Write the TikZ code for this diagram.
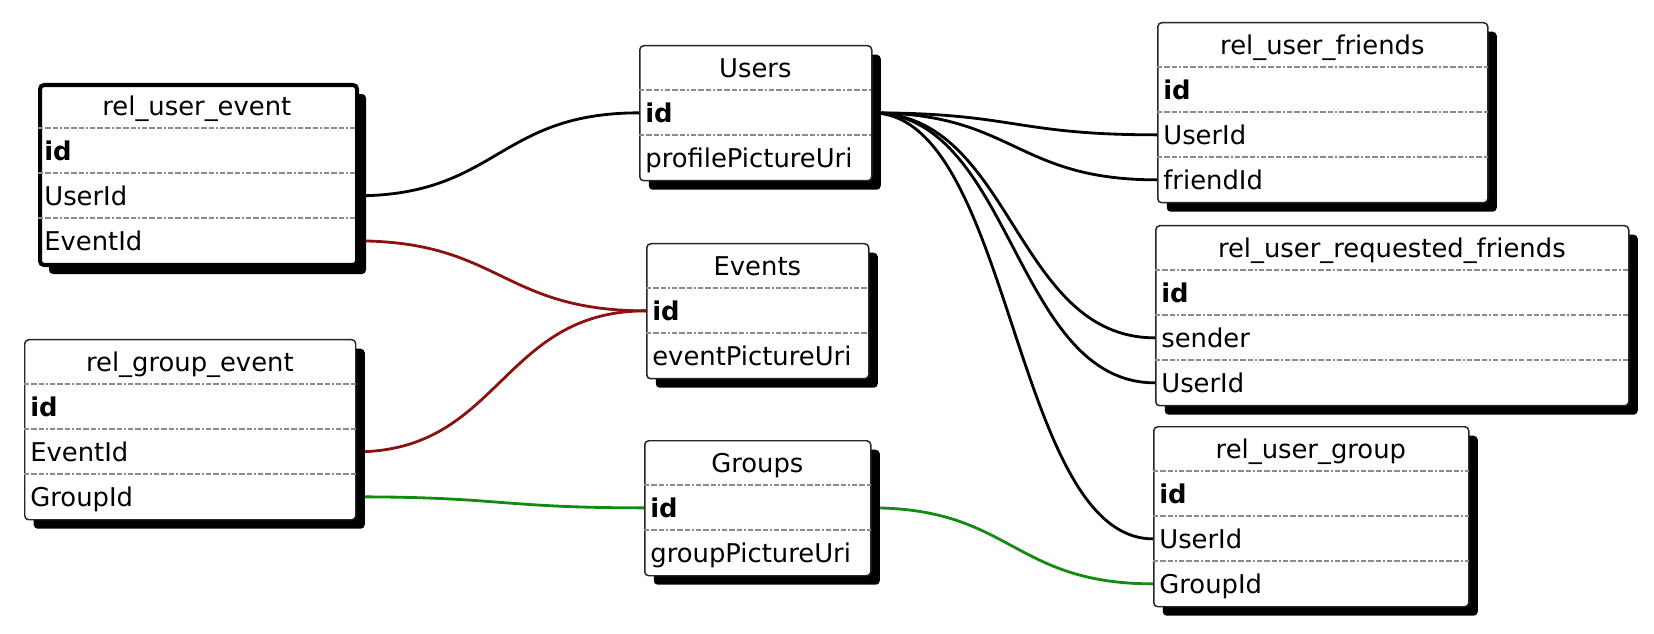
\documentclass[tikz,border=0pt]{standalone}
\usepackage{fontspec}
\setmainfont{DejaVu Sans}
\usetikzlibrary{shadows,backgrounds,calc}

\definecolor{fkred}{RGB}{140,18,18}
\definecolor{fkgreen}{RGB}{16,140,16}

\newlength{\rowh}
\setlength{\rowh}{0.9cm}

% [frame style]{name}{north west}{width}{rows}{title}{fields}
\newcommand{\dbtable}[7][]{%
  \node[tableframe,minimum width=#4,minimum height={(#5+1)*\rowh},anchor=north west,#1] (#2) at (#3) {};
  \node[tablehead,minimum width=#4,anchor=north west] (#2-0) at (#3) {#6};
  \pgfmathsetlengthmacro{\fieldw}{#4-0.24cm}
  \foreach \f [count=\i] in {#7} {
    \node[tablefield,text width=\fieldw,anchor=north west] (#2-\i) at ([yshift=-\i*\rowh]#2.north west) {\f};
    \draw[fieldsep] (#2-\i.north west) -- (#2-\i.north east);
  }
}

\begin{document}
\begin{tikzpicture}[
  font=\fontsize{14.7pt}{17pt}\selectfont,
  tableframe/.style={draw=black!85,line width=0.85pt,rounded corners=0.08cm,fill=white,inner sep=0pt,
    drop shadow={shadow xshift=0.18cm,shadow yshift=-0.18cm,fill=black,opacity=1}},
  selected/.style={line width=2.3pt,draw=black},
  tablehead/.style={inner sep=0pt,minimum height=\rowh,text height=0.37cm,text depth=0pt},
  tablefield/.style={inner xsep=0.12cm,inner ysep=0pt,minimum height=\rowh,text height=0.37cm,text depth=0pt,align=left},
  fieldsep/.style={draw=black!45,line width=0.7pt,dash pattern=on 3pt off 1.2pt on 3pt off 1.2pt on 3pt off 1.2pt on 1pt off 1.2pt},
  fk/.style={line width=1.6pt,to path={let \p1=(\tikztostart), \p2=(\tikztotarget) in
    .. controls ({(\x1+\x2)/2},\y1) and ({(\x1+\x2)/2},\y2) .. (\tikztotarget)}}
]
  \useasboundingbox (0,0) rectangle (33.08,-12.68);

  \dbtable[selected]{uevent}{0.76,-1.66}{6.34cm}{3}{rel\_user\_event}{\textbf{id},UserId,EventId}
  \dbtable{gevent}{0.48,-6.78}{6.62cm}{3}{rel\_group\_event}{\textbf{id},EventId,GroupId}
  \dbtable{users}{12.78,-0.90}{4.64cm}{2}{Users}{\textbf{id},profilePictureUri}
  \dbtable{events}{12.92,-4.86}{4.44cm}{2}{Events}{\textbf{id},eventPictureUri}
  \dbtable{groups}{12.88,-8.80}{4.52cm}{2}{Groups}{\textbf{id},groupPictureUri}
  \dbtable{ufriends}{23.14,-0.44}{6.60cm}{3}{rel\_user\_friends}{\textbf{id},UserId,friendId}
  \dbtable{ureq}{23.10,-4.50}{9.46cm}{3}{rel\_user\_requested\_friends}{\textbf{id},sender,UserId}
  \dbtable{ugroup}{23.06,-8.52}{6.30cm}{3}{rel\_user\_group}{\textbf{id},UserId,GroupId}

  % foreign keys
  \begin{scope}[on background layer]
    \draw[fk] (uevent-2.east) to (users-1.west);
    \foreach \t in {ufriends-2,ufriends-3,ureq-2,ureq-3,ugroup-2}
      \draw[fk] (users-1.east) to (\t.west);
    \draw[fk,fkred] (uevent-3.east) to (events-1.west);
    \draw[fk,fkred] (gevent-2.east) to (events-1.west);
    \draw[fk,fkgreen] (gevent-3.east) to (groups-1.west);
    \draw[fk,fkgreen] (groups-1.east) to (ugroup-3.west);
  \end{scope}
\end{tikzpicture}
\end{document}
